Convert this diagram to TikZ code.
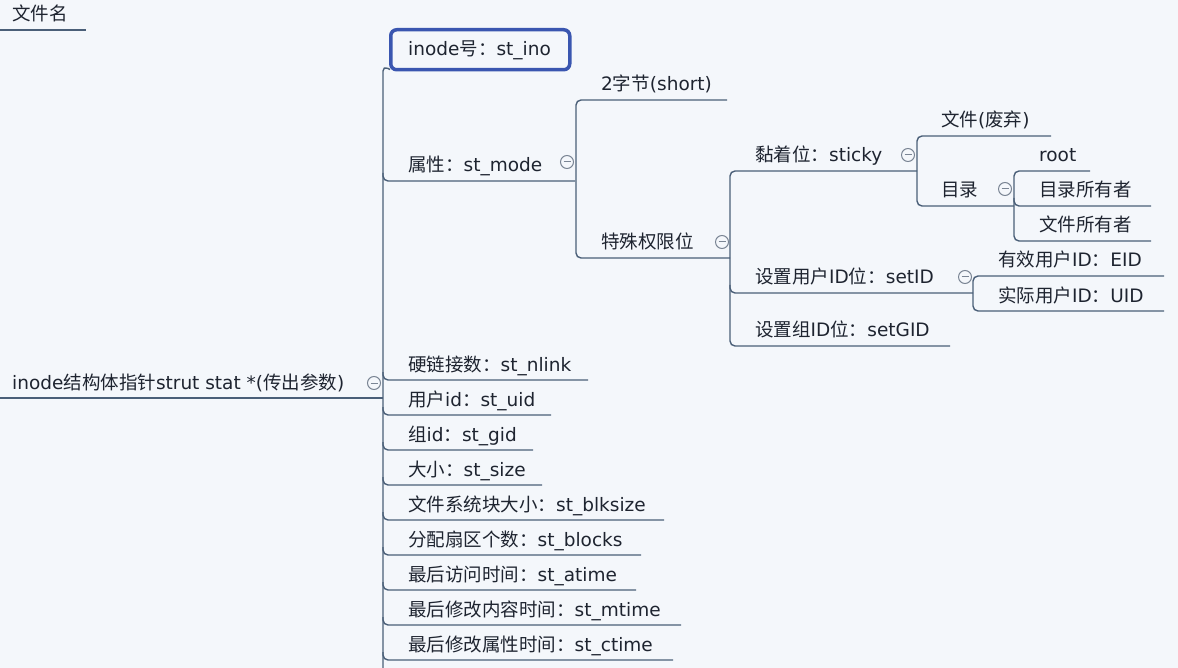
\documentclass[tikz,border=0pt]{standalone}
\usepackage{fontspec}
\setmainfont{DejaVu Sans}
\newfontfamily\cjk{Noto Sans CJK SC}
\newcommand\C[1]{{\cjk #1}}
\definecolor{bgc}{HTML}{F4F7FB}
\definecolor{linec}{HTML}{4A5F78}
\definecolor{textc}{HTML}{1E2430}
\definecolor{selc}{HTML}{3A56B0}
\definecolor{circc}{HTML}{7A8594}
\begin{document}
\begin{tikzpicture}[x=1pt,y=-1pt,
  topic/.style={anchor=base west,inner sep=0pt,text=textc,font=\fontsize{18.5}{20}\selectfont},
  conn/.style={draw=linec,line width=1.4pt,rounded corners=5pt},
  collapse/.style={circle,draw=circc,line width=1pt,minimum size=13pt,inner sep=0pt,
    path picture={\draw[circc,line width=1pt] ([xshift=3pt]path picture bounding box.west) -- ([xshift=-3pt]path picture bounding box.east);}},
  selbox/.style={draw=selc,line width=3.5pt,rounded corners=6pt,fill=bgc}]
\fill[bgc] (0,0) rectangle (1178,668);
\useasboundingbox (0,0) rectangle (1178,668);

% texts
\node[topic] (fname) at (12,21) {\C{文件名}};
\node[topic] (root) at (12,389) {inode\C{结构体指针}strut stat *(\C{传出参数})};
\node[collapse] (croot) at (374,383) {};

\node[selbox,minimum width=179pt,minimum height=40pt,anchor=north west] (inobox) at (389,28) {};
\node[topic] (ino) at (408,56) {inode\C{号：}st\_ino};

\node[topic] (mode) at (408,172) {\C{属性：}st\_mode};
\node[collapse] (cmode) at (567,162) {};
\node[topic] (short) at (601,91) {2\C{字节}(short)};
\node[topic] (special) at (601,249) {\C{特殊权限位}};
\node[collapse] (cspecial) at (722,242) {};
\node[topic] (sticky) at (755,162) {\C{黏着位：}sticky};
\node[collapse] (csticky) at (908,155) {};
\node[topic] (sfile) at (941,127) {\C{文件}(\C{废弃})};
\node[topic] (sdir) at (941,197) {\C{目录}};
\node[collapse] (csdir) at (1005,189) {};
\node[topic] (sroot) at (1039,162) {root};
\node[topic] (dirown) at (1039,197) {\C{目录所有者}};
\node[topic] (fileown) at (1039,232) {\C{文件所有者}};
\node[topic] (setid) at (755,284) {\C{设置用户}ID\C{位：}setID};
\node[collapse] (csetid) at (965,277) {};
\node[topic] (eid) at (998,267) {\C{有效用户}ID\C{：}EID};
\node[topic] (uid) at (998,302) {\C{实际用户}ID\C{：}UID};
\node[topic] (setgid) at (755,337) {\C{设置组}ID\C{位：}setGID};

\node[topic] (nlink) at (408,371) {\C{硬链接数：}st\_nlink};
\node[topic] (stuid) at (408,406) {\C{用户}id\C{：}st\_uid};
\node[topic] (stgid) at (408,441) {\C{组}id\C{：}st\_gid};
\node[topic] (size) at (408,476) {\C{大小：}st\_size};
\node[topic] (blksize) at (408,511) {\C{文件系统块大小：}st\_blksize};
\node[topic] (blocks) at (408,546) {\C{分配扇区个数：}st\_blocks};
\node[topic] (atime) at (408,581) {\C{最后访问时间：}st\_atime};
\node[topic] (mtime) at (408,616) {\C{最后修改内容时间：}st\_mtime};
\node[topic] (ctime) at (408,651) {\C{最后修改属性时间：}st\_ctime};

% connectors
\draw[conn] (0,30) -- (86,30);
\draw[conn] (0,398) -- (383,398);
\draw[conn] (inobox.south west) ++(1,-2) -- (383,66) -- (383,672);
\foreach \yy/\xe in {181/575,380/588,415/551,450/533,485/542,520/664,555/641,590/636,625/681,660/673}{
  \draw[conn] (383,\yy-8) -- (383,\yy) -- (\xe,\yy);
}
\draw[conn] (727,100) -- (576,100) -- (576,258) -- (730,258);
\draw[conn] (917,171) -- (730,171) -- (730,346) -- (950,346);
\draw[conn] (730,285) -- (730,293) -- (973,293);
\draw[conn] (1051,136) -- (917,136) -- (917,206) -- (1014,206);
\draw[conn] (1090,171) -- (1014,171) -- (1014,241) -- (1151,241);
\draw[conn] (1014,198) -- (1014,206) -- (1151,206);
\draw[conn] (1164,276) -- (973,276) -- (973,311) -- (1164,311);
\end{tikzpicture}
\end{document}
